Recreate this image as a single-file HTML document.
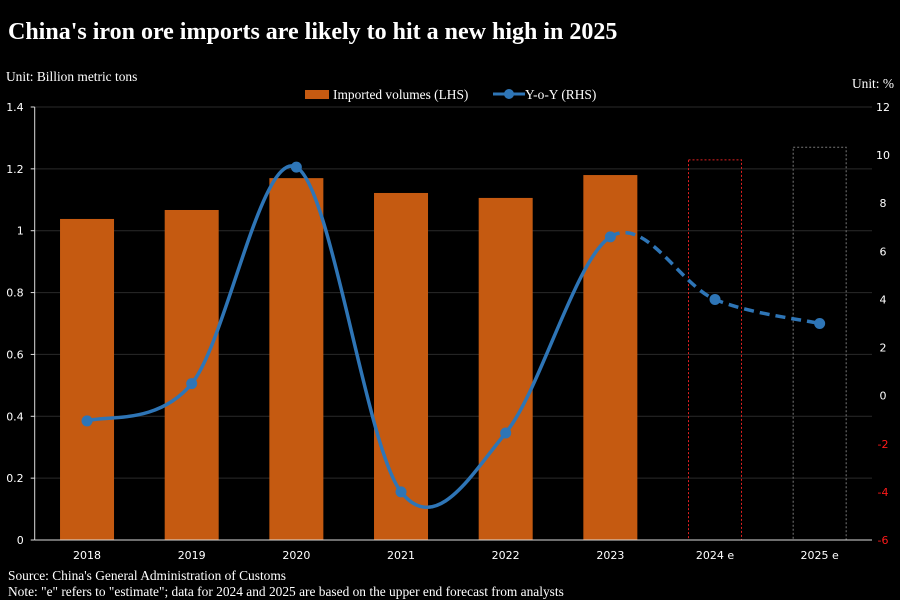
<!DOCTYPE html>
<html><head><meta charset="utf-8">
<style>
body{margin:0;background:#000;width:900px;height:600px;overflow:hidden}
svg{display:block}
.serif{font-family:"Liberation Serif",serif;fill:#fff}
.tick{font-family:"DejaVu Sans","Liberation Sans",sans-serif;font-size:11px;fill:#fff}
</style></head><body>
<svg id="chart" width="900" height="600">
<text class="serif" x="8" y="39" font-size="24" font-weight="bold">China's iron ore imports are likely to hit a new high in 2025</text>
<text class="serif" x="6" y="81" font-size="13.4">Unit: Billion metric tons</text>
<text class="serif" x="894" y="88" font-size="13.4" text-anchor="end">Unit: %</text>
<g>
<rect x="305" y="90" width="24" height="9" fill="#c55a11"/>
<text class="serif" x="333" y="99" font-size="13.4">Imported volumes (LHS)</text>
<line x1="493" y1="94" x2="525" y2="94" stroke="#2e75b6" stroke-width="3"/>
<circle cx="509" cy="94" r="5" fill="#2e75b6"/>
<text class="serif" x="525" y="99" font-size="13.4">Y-o-Y (RHS)</text>
</g>
<g id="grid"></g><g id="bars"></g><g id="line"></g><g id="axes"></g>
<text class="serif" x="8" y="580" font-size="13.4">Source: China's General Administration of Customs</text>
<text class="serif" x="8" y="596" font-size="13.4">Note: "e" refers to "estimate"; data for 2024 and 2025 are based on the upper end forecast from analysts</text>
</svg>
<script>
const categories=["2018","2019","2020","2021","2022","2023","2024 e","2025 e"];
const volumes=[1.038,1.067,1.17,1.122,1.106,1.18,1.229,1.27];
const yoy=[-1.05,0.5,9.5,-4.0,-1.55,6.6,4.0,3.0];
const leftTicks=["0","0.2","0.4","0.6","0.8","1","1.2","1.4"];
const rightTicks=["-6","-4","-2","0","2","4","6","8","10","12"];
const NS="http://www.w3.org/2000/svg";
const X0=34.7,X1=872,Y0=540,Y1=107;
const band=(X1-X0)/categories.length;
const xc=i=>X0+band*(i+0.5);
const yL=v=>Y0-(v/1.4)*(Y0-Y1);
const yR=v=>Y0-((v+6)/18)*(Y0-Y1);
function mk(t,a,p){const e=document.createElementNS(NS,t);for(const k in a)e.setAttribute(k,a[k]);p.appendChild(e);return e;}
const grid=document.getElementById('grid'),bars=document.getElementById('bars'),line=document.getElementById('line'),axes=document.getElementById('axes');
leftTicks.forEach(t=>{const y=yL(parseFloat(t));
 if(parseFloat(t)>0){const g=mk('line',{x1:X0,x2:X1,y1:y,y2:y,stroke:'#2a2a2a','stroke-width':1},grid);
 
 }
 const tk=mk('line',{x1:X0-4,x2:X0,y1:y,y2:y,stroke:'#ddd'},axes);
 
 
 const tx=mk('text',{x:X0-11,y:y+4,'text-anchor':'end',class:'tick'},axes);tx.textContent=t;
 
 });
rightTicks.forEach(t=>{const v=parseFloat(t);const tx=mk('text',{x:883,y:yR(v)+4,'text-anchor':'middle',class:'tick'},axes);tx.textContent=t;
 if(v<0)tx.setAttribute('style','fill:#ff1a1a');
 
 });
const bw=54;
volumes.forEach((v,i)=>{const x=xc(i)-bw/2,y=yL(v);let r;
 if(i<6){r=mk('rect',{x:x,y:y,width:bw,height:Y0-y,fill:'#c55a11'},bars);}
 else{r=mk('rect',{x:x+0.5,y:y,width:bw-1,height:Y0-y,fill:'none',stroke:i==6?'#e02020':'#777','stroke-dasharray':'2,2','stroke-width':1},bars);}
 
 
 const tx=mk('text',{x:xc(i),y:559,'text-anchor':'middle',class:'tick'},axes);tx.textContent=categories[i];
 
 });
const ax=mk('line',{x1:X0,x2:X0,y1:Y1,y2:Y0,stroke:'#ddd'},axes);


const bx=mk('line',{x1:X0,x2:X1,y1:Y0,y2:Y0,stroke:'#ddd'},axes);


const pts=yoy.map((v,i)=>[xc(i),yR(v)]);
function seg(a,b){let d='';for(let i=a;i<b;i++){const p0=pts[Math.max(i-1,0)],p1=pts[i],p2=pts[i+1],p3=pts[Math.min(i+2,pts.length-1)];
 const c1=[p1[0]+(p2[0]-p0[0])/6,p1[1]+(p2[1]-p0[1])/6],c2=[p2[0]-(p3[0]-p1[0])/6,p2[1]-(p3[1]-p1[1])/6];
 if(i==a)d+='M'+p1[0]+','+p1[1];d+='C'+c1+' '+c2+' '+p2;}return d;}
const s=mk('path',{d:seg(0,5),fill:'none',stroke:'#2e75b6','stroke-width':3.5},line);


const f=mk('path',{d:seg(5,7),fill:'none',stroke:'#2e75b6','stroke-width':3.5,'stroke-dasharray':'10,6'},line);


pts.forEach((p,i)=>{const c=mk('circle',{cx:p[0],cy:p[1],r:5.5,fill:'#2e75b6'},line);
 
 });
</script>
</body></html>
